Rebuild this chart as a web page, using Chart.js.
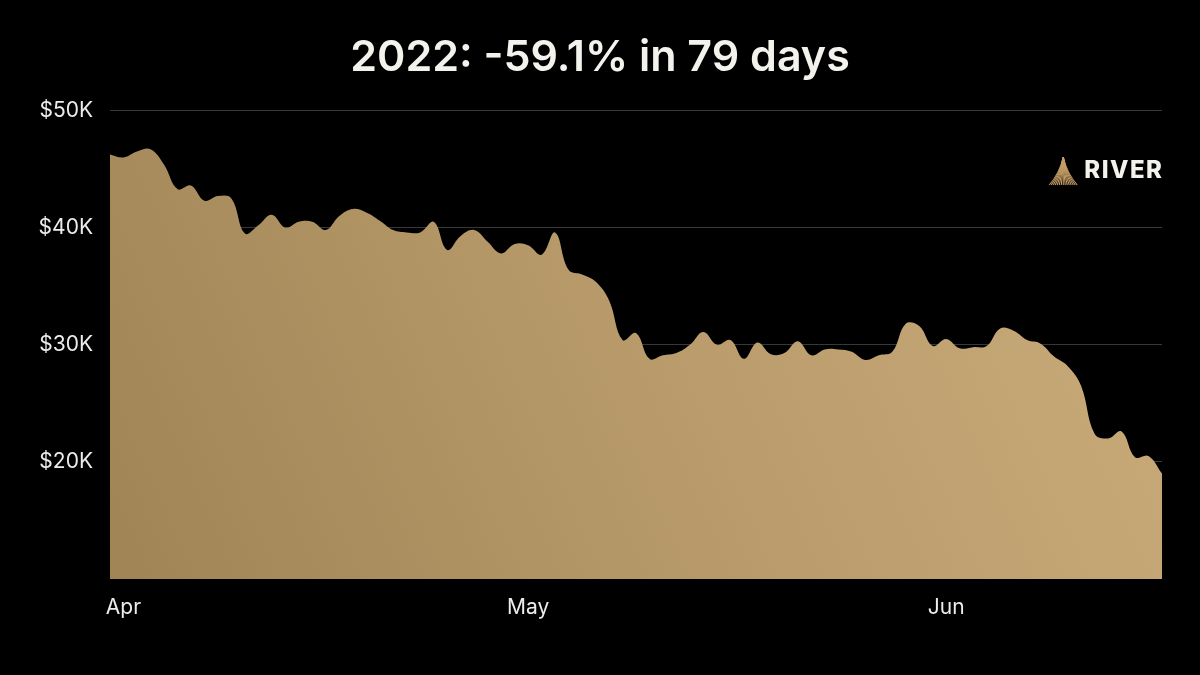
<!DOCTYPE html>
<html>
<head>
<meta charset="utf-8">
<script src="https://cdn.jsdelivr.net/npm/chart.js@4.4.1/dist/chart.umd.min.js"></script>
<style>
  html, body { margin: 0; padding: 0; background: #000; }
  #wrap { width: 1200px; height: 675px; }
</style>
</head>
<body>
<div id="wrap"><canvas id="priceChart" width="1200" height="675"></canvas></div>
<script>
const chartTitle = '2022: -59.1% in 79 days';
const brandName = 'RIVER';

// daily closes, 2022-03-31 .. 2022-06-17
const firstDay = new Date(Date.UTC(2022, 2, 31));
const monthNames = ['Jan', 'Feb', 'Mar', 'Apr', 'May', 'Jun', 'Jul', 'Aug', 'Sep', 'Oct', 'Nov', 'Dec'];
const yTickValues = [20000, 30000, 40000, 50000];

const prices = [
    46250, 46000, 46500, 46700, 45400, 43300, 43600, 42300, 42700, 42500,
    39500, 40200, 41100, 40000, 40500, 40500, 39800, 41000, 41600, 41300,
    40600, 39800, 39600, 39600, 40500, 38100, 39300, 39800, 38800, 37800,
    38600, 38500, 37700, 39600, 36400, 36000, 35400, 33800, 30400, 31000,
    28800, 29100, 29300, 30000, 31100, 30000, 30400, 28800, 30200, 29200,
    29300, 30300, 29100, 29600, 29600, 29400, 28700, 29100, 29400, 31800,
    31600, 29900, 30500, 29700, 29800, 29900, 31400, 31200, 30400, 30100,
    29000, 28200, 26500, 22400, 22000, 22600, 20400, 20500, 19000,
];

const days = prices.map((p, i) => {
    const d = new Date(firstDay.getTime() + i * 86400000);
    return { month: d.getUTCMonth(), date: d.getUTCDate() };
});
const labels = days.map(d => monthNames[d.month] + ' ' + d.date);

const brandPlugin = {
    id: 'brand',
    afterDraw(chart) {
        const c = chart.ctx;
        const right = chart.chartArea.right;
        c.save();
        c.font = '800 24px Inter';
        c.letterSpacing = '1.5px';
        c.fillStyle = '#f4f2ec';
        c.textAlign = 'left';
        c.textBaseline = 'middle';
        const textW = c.measureText(brandName).width - 1.5;
        c.fillText(brandName, right - textW, 171);

        // mountain mark left of the word
        const cx = right - textW - 21;
        const top = 157, base = 185, half = 14;
        c.strokeStyle = '#c29d65';
        c.lineWidth = 1.1;
        for (let k = -7; k <= 7; k++) {
            c.beginPath();
            c.moveTo(cx, top);
            c.quadraticCurveTo(cx + k * 0.5, top + 16, cx + (k / 7) * half, base);
            c.stroke();
        }
        c.restore();
    },
};

const ctx = document.getElementById('priceChart').getContext('2d');
const chart = new Chart(ctx, {
    type: 'line',
    data: {
        labels: labels,
        datasets: [
            {
                data: prices,
                fill: 'start',
                borderWidth: 0,
                pointRadius: 0,
                tension: 0.4,
                backgroundColor: (context) => {
                    const area = context.chart.chartArea;
                    if (!area) {
                        return '#b89a6a';
                    }
                    const g = context.chart.ctx.createLinearGradient(area.left, area.bottom, area.right, area.top);
                    g.addColorStop(0, '#a08455');
                    g.addColorStop(0.55, '#bb9d6d');
                    g.addColorStop(1, '#cbab7a');
                    return g;
                },
            },
        ],
    },
    options: {
        responsive: false,
        animation: false,
        devicePixelRatio: 1,
        layout: {
            padding: 0,
        },
        scales: {
            x: {
                offset: false,
                grid: { display: false },
                border: { display: false },
                afterFit: (scale) => { scale.height = 96; },
                ticks: {
                    autoSkip: false,
                    maxRotation: 0,
                    padding: 8,
                    color: '#ececec',
                    font: { family: 'Inter', size: 21 },
                    callback: (val, i) => (days[i].date === 1 ? monthNames[days[i].month] : ''),
                },
            },
            y: {
                min: 10000,
                max: 50000,
                border: { display: false },
                afterFit: (scale) => { scale.width = 110; },
                grid: {
                    drawTicks: false,
                    color: (c) => (c.tick && c.tick.value === 10000 ? 'rgba(0,0,0,0)' : '#383838'),
                    lineWidth: 1,
                },
                ticks: {
                    stepSize: 10000,
                    padding: 17,
                    color: '#ececec',
                    font: { family: 'Inter', size: 21 },
                    callback: (v) => (yTickValues.includes(v) ? '$' + v / 1000 + 'K' : ''),
                },
            },
            // empty right margin so the title centres on the page
            yRight: {
                position: 'right',
                grid: { display: false },
                border: { display: false },
                ticks: { display: false },
                afterFit: (scale) => { scale.width = 38; },
            },
        },
        plugins: {
            legend: { display: false },
            tooltip: { enabled: false },
            title: {
                display: true,
                text: chartTitle,
                color: '#f4f2ec',
                font: { family: 'Inter', size: 43, weight: '600' },
                padding: { top: 32, bottom: 27 },
            },
        },
    },
    plugins: [brandPlugin],
});
</script>
</body>
</html>
